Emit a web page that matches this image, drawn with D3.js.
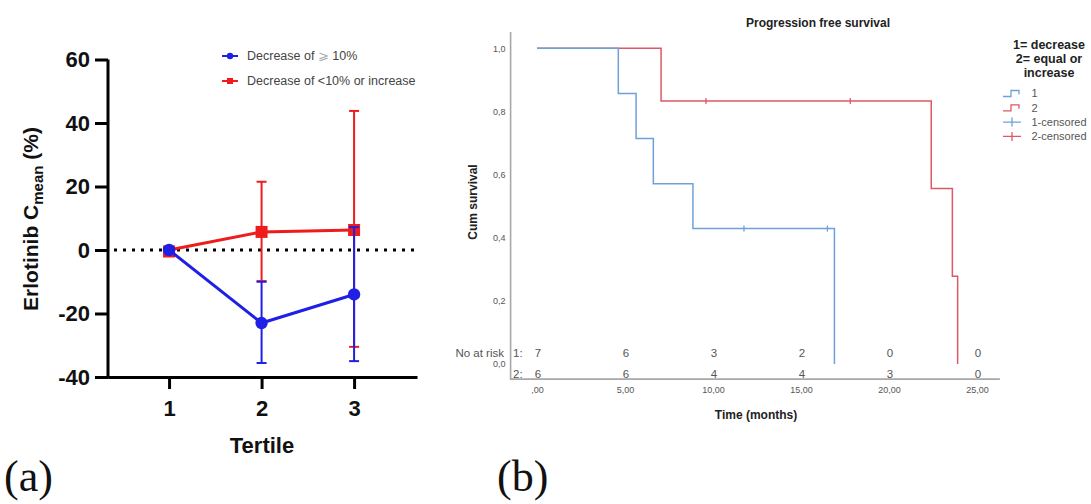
<!DOCTYPE html>
<meta charset="utf-8">
<title>Erlotinib Cmean and progression free survival</title>
<style>
body { margin: 0; background: #fff; }
svg { display: block; }
.sans { font-family: Arial, "Liberation Sans", sans-serif; }
.bold { font-weight: bold; }
.pa .tick line, .pa .domain { stroke: #000; stroke-width: 3px; }
.pa .tick text { font: bold 22px Arial, "Liberation Sans", sans-serif; fill: #111; }
.pb .tick text { font: 9px Arial, "Liberation Sans", sans-serif; fill: #555; }
.pb .domain, .pb .tick line { display: none; }
</style>
<svg id="chart" width="1091" height="504"></svg>
<script src="https://d3js.org/d3.v7.min.js"></script>
<script>

// ---- panel (a) data
var tertiles = [1, 2, 3];
var yTicksA = [-40, -20, 0, 20, 40, 60];
var decMean  = [0, -23, -14];
var decLow   = [0, -35.6, -35];
var decHigh  = [0, -10, 7.2];
var incMean  = [0, 5.7, 6.3];
var incLow   = [0, -9.8, -30.5];
var incHigh  = [0, 21.5, 43.8];
var legendA  = ["Decrease of ", "Decrease of <10% or increase"];

// ---- panel (b) data
var t1 = [0, 4.62, 5.63, 6.61, 8.86, 16.9];
var s1 = [1, 0.857, 0.714, 0.571, 0.429, 0];
var t2 = [0, 7.05, 22.4, 23.6, 23.9];
var s2 = [1, 0.833, 0.556, 0.278, 0];
var cens1 = [11.76, 16.5];   // at 0.429
var cens2 = [9.6, 17.8];     // at 0.833
var riskTimes = [0, 5, 10, 15, 20, 25];
var risk1 = [7, 6, 3, 2, 0, 0];
var risk2 = [6, 6, 4, 4, 3, 0];
var yTicksB = [0, 0.2, 0.4, 0.6, 0.8, 1.0];
var legendB = ["1", "2", "1-censored", "2-censored"];
var legendTitle = ["1= decrease", "2= equal or", "increase"];

var blue = "#1f1fe6", red = "#ee1c1c";
var kmBlue = "#6fa0dc", kmRed = "#dc5a66";

var svg = d3.select("#chart");

// ================= panel (a)
var xA = d3.scaleLinear().domain([0.34, 3.68]).range([108, 417]),
    yA = d3.scaleLinear().domain([-40, 60]).range([377, 59.5]);

var ga = svg.append("g").attr("class", "pa");

ga.append("g")
    .attr("transform", "translate(108,0)")
    .call(d3.axisLeft(yA).tickValues(yTicksA).tickSize(13).tickSizeOuter(0).tickPadding(5)
      .tickFormat(function(d) { return String(d); }))
    .select(".domain").attr("d", "M0," + yA(60) + "V" + (yA(-40) + 1.5));

ga.append("g")
    .attr("transform", "translate(0,377)")
    .call(d3.axisBottom(xA).tickValues(tertiles).tickSize(12).tickSizeOuter(0).tickPadding(11)
      .tickFormat(d3.format("d")));

// zero reference
ga.append("line")
    .attr("x1", 114).attr("x2", xA(3.66))
    .attr("y1", yA(0)).attr("y2", yA(0))
    .attr("stroke", "#000").attr("stroke-width", 3.2)
    .attr("stroke-dasharray", "3,6");

function drawSeries(mean, low, high, color, shape) {
  var g = ga.append("g");
  // error bars
  tertiles.forEach(function(t, i) {
    if (low[i] === high[i]) return;
    var x = xA(t);
    g.append("line").attr("x1", x).attr("x2", x).attr("y1", yA(low[i])).attr("y2", yA(high[i]))
      .attr("stroke", color).attr("stroke-width", 2);
    [low[i], high[i]].forEach(function(v) {
      g.append("line").attr("x1", x - 5).attr("x2", x + 5).attr("y1", yA(v)).attr("y2", yA(v))
        .attr("stroke", color).attr("stroke-width", 2);
    });
  });
  g.append("path")
    .datum(mean)
    .attr("fill", "none").attr("stroke", color).attr("stroke-width", 3)
    .attr("d", d3.line().x(function(d, i) { return xA(tertiles[i]); }).y(function(d) { return yA(d); }));
  mean.forEach(function(v, i) {
    if (shape === "square") {
      g.append("rect").attr("x", xA(tertiles[i]) - 6).attr("y", yA(v) - 6 + (i === 0 ? 1.5 : 0))
        .attr("width", 12).attr("height", 12).attr("fill", color);
    } else {
      g.append("circle").attr("cx", xA(tertiles[i])).attr("cy", yA(v)).attr("r", 6.2).attr("fill", color);
    }
  });
}
drawSeries(incMean, incLow, incHigh, red, "square");
drawSeries(decMean, decLow, decHigh, blue, "circle");

// legend (a)
var la = ga.append("g").attr("class", "sans");
[blue, red].forEach(function(c, i) {
  var y = 56 + i * 25;
  la.append("line").attr("x1", 222).attr("x2", 238).attr("y1", y).attr("y2", y)
    .attr("stroke", c).attr("stroke-width", 2);
  if (i === 0) la.append("circle").attr("cx", 230).attr("cy", y).attr("r", 3.2).attr("fill", c);
  else la.append("rect").attr("x", 227).attr("y", y - 3).attr("width", 6).attr("height", 6).attr("fill", c);
  var t = la.append("text").attr("x", 247).attr("y", y).attr("dy", "0.35em")
    .attr("font-size", 12.5).attr("fill", "#444").text(legendA[i]);
  if (i === 0) {
    t.append("tspan").attr("fill", "#aaa").text("⩾");
    t.append("tspan").text(" 10%");
  }
});

// axis titles (a)
ga.append("text").attr("class", "sans bold")
  .attr("transform", "translate(38,219) rotate(-90)")
  .attr("text-anchor", "middle").attr("font-size", 21).attr("fill", "#111")
  .call(function(t) {
    t.append("tspan").text("Erlotinib C");
    t.append("tspan").attr("font-size", 15).attr("dy", 5).text("mean");
    t.append("tspan").attr("dy", -5).text(" (%)");
  });

ga.append("text").attr("class", "sans bold")
  .attr("x", 262).attr("y", 453).attr("text-anchor", "middle")
  .attr("font-size", 22).attr("fill", "#111").text("Tertile");

// ================= panel (b)
var xB = d3.scaleLinear().domain([0, 25]).range([537, 977]),
    yB = d3.scaleLinear().domain([0, 1]).range([364, 48.3]);

var gb = svg.append("g").attr("class", "pb");

// frame
gb.append("path")
  .attr("fill", "none").attr("stroke", "#a8a8a8").attr("stroke-width", 1.6)
  .attr("d", "M" + xB(-1.5) + "," + yB(1.052) + "V" + yB(-0.048) + "H" + xB(26.3));

gb.append("g")
    .attr("transform", "translate(" + xB(-1.5) + ",0)")
    .call(d3.axisLeft(yB).tickValues(yTicksB).tickSize(0).tickPadding(5)
      .tickFormat(function(d) { return d3.format(".1f")(d).replace(".", ","); }));

gb.append("g")
    .attr("transform", "translate(0," + yB(-0.048) + ")")
    .call(d3.axisBottom(xB).tickValues(riskTimes).tickSize(0).tickPadding(7)
      .tickFormat(function(d) { return d === 0 ? ",00" : d3.format(".2f")(d).replace(".", ","); }));

var step = d3.line().curve(d3.curveStepAfter)
    .x(function(d) { return xB(d[0]); }).y(function(d) { return yB(d[1]); });

gb.append("path").datum(d3.zip(t2, s2))
  .attr("fill", "none").attr("stroke", kmRed).attr("stroke-width", 1.5).attr("d", step);
gb.append("path").datum(d3.zip(t1, s1))
  .attr("fill", "none").attr("stroke", kmBlue).attr("stroke-width", 1.5).attr("d", step);

function censor(times, s, color) {
  times.forEach(function(t) {
    gb.append("line").attr("x1", xB(t)).attr("x2", xB(t)).attr("y1", yB(s) - 3).attr("y2", yB(s) + 3)
      .attr("stroke", color).attr("stroke-width", 1.3);
  });
}
censor(cens1, 0.429, kmBlue);
censor(cens2, 0.833, kmRed);

// title and axis labels (b)
gb.append("text").attr("class", "sans bold")
  .attr("x", 818).attr("y", 23).attr("dy", "0.35em").attr("text-anchor", "middle")
  .attr("font-size", 12).attr("fill", "#222").text("Progression free survival");

gb.append("text").attr("class", "sans bold")
  .attr("transform", "translate(473,202) rotate(-90)").attr("dy", "0.35em")
  .attr("text-anchor", "middle").attr("font-size", 12).attr("fill", "#222").text("Cum survival");

gb.append("text").attr("class", "sans bold")
  .attr("x", 756).attr("y", 415).attr("dy", "0.35em").attr("text-anchor", "middle")
  .attr("font-size", 12).attr("fill", "#222").text("Time (months)");

// number at risk
var nr = gb.append("g").attr("class", "sans").attr("font-size", 11.5).attr("fill", "#555");
nr.append("text").attr("x", 504).attr("y", 353).attr("dy", "0.35em").attr("text-anchor", "end").text("No at risk");
[risk1, risk2].forEach(function(row, r) {
  var y = r === 0 ? 353 : 374;
  nr.append("text").attr("x", 513).attr("y", y).attr("dy", "0.35em").text((r + 1) + ":");
  row.forEach(function(v, i) {
    nr.append("text").attr("x", xB(riskTimes[i]) + 1).attr("y", y).attr("dy", "0.35em")
      .attr("text-anchor", "middle").text(v);
  });
});

// legend (b)
var lb = gb.append("g").attr("class", "sans");
legendTitle.forEach(function(s, i) {
  lb.append("text").attr("class", "bold").attr("x", 1049).attr("y", 44.5 + i * 14).attr("dy", "0.35em")
    .attr("text-anchor", "middle").attr("font-size", 12.5).attr("fill", "#222").text(s);
});
legendB.forEach(function(s, i) {
  var y = 93.5 + i * 14.3, c = i % 2 === 0 ? kmBlue : kmRed;
  if (i < 2) {
    lb.append("path").attr("fill", "none").attr("stroke", c).attr("stroke-width", 1.3)
      .attr("d", "M1003," + (y + 3) + "H1011V" + (y - 3) + "H1019V" + (y + 1));
  } else {
    lb.append("path").attr("fill", "none").attr("stroke", c).attr("stroke-width", 1.3)
      .attr("d", "M1003," + y + "H1021M1012," + (y - 4.5) + "V" + (y + 4.5));
  }
  lb.append("text").attr("x", 1031.5).attr("y", y).attr("dy", "0.35em")
    .attr("font-size", 11).attr("fill", "#555").text(s);
});

// panel letters
svg.append("text").attr("x", 4).attr("y", 491).attr("font-family", "'Liberation Serif', 'DejaVu Serif', serif")
  .attr("font-size", 44).attr("fill", "#111").text("(a)");
svg.append("text").attr("x", 497).attr("y", 491).attr("font-family", "'Liberation Serif', 'DejaVu Serif', serif")
  .attr("font-size", 44).attr("fill", "#111").text("(b)");

</script>
